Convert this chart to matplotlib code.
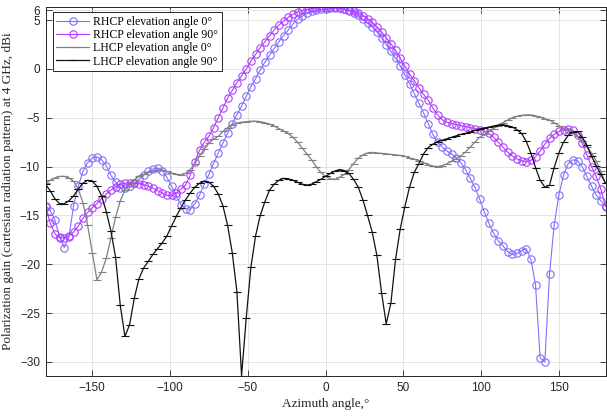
import numpy as np
import matplotlib
matplotlib.use("Agg")
import matplotlib.pyplot as plt

azimuth = np.arange(-180, 181, 3)

rhcp_el0 = [
    -14.0, -14.5, -15.5, -17.2, -18.3, -17.2, -14.0, -12.0, -10.5, -9.6,
    -9.1, -9.0, -9.3, -9.9, -10.9, -11.6, -12.2, -12.2, -12.0, -11.7,
    -11.3, -10.9, -10.5, -10.25, -10.15, -10.4, -11.1, -12.0, -13.0, -13.9,
    -14.3, -14.4, -13.8, -12.9, -11.8, -10.8, -9.7, -8.6, -7.6, -6.6,
    -5.6, -4.7, -3.8, -2.8, -1.8, -1.0, -0.1, 0.7, 1.4, 2.1,
    2.8, 3.4, 4.0, 4.6, 5.1, 5.4, 5.7, 5.9, 6.0, 6.1,
    6.15, 6.2, 6.2, 6.2, 6.1, 5.95, 5.75, 5.5, 5.1, 4.7,
    4.3, 3.8, 3.2, 2.5, 1.8, 1.1, 0.3, -0.6, -1.5, -2.5,
    -3.5, -4.5, -5.6, -6.7, -7.5, -8.0, -8.4, -8.7, -9.1, -9.6,
    -10.3, -11.2, -12.1, -13.3, -14.6, -15.8, -16.8, -17.6, -18.1, -18.7,
    -19.0, -18.9, -18.6, -18.4, -19.5, -22.1, -29.6, -30.0, -21.0, -16.0,
    -12.9, -10.9, -9.7, -9.3, -9.4, -10.0, -11.0, -12.0, -12.9, -13.5,
    -14.0]

rhcp_el90 = [
    -14.1, -15.8, -16.9, -17.3, -17.3, -17.1, -16.7, -16.1, -15.3, -14.7,
    -14.2, -13.8, -13.3, -12.8, -12.4, -12.1, -11.8, -11.7, -11.65, -11.7,
    -11.75, -11.85, -12.0, -12.2, -12.45, -12.7, -12.95, -12.95, -12.7, -12.3,
    -11.9, -10.9, -9.5, -8.3, -7.5, -6.9, -6.0, -5.0, -4.0, -3.0,
    -2.2, -1.4, -0.7, 0.0, 0.8, 1.5, 2.2, 2.8, 3.4, 4.0,
    4.5, 4.9, 5.3, 5.6, 5.85, 6.0, 6.1, 6.2, 6.25, 6.3,
    6.3, 6.3, 6.3, 6.25, 6.15, 6.05, 5.9, 5.7, 5.45, 5.15,
    4.8, 4.35, 3.8, 3.2, 2.6, 1.9, 1.1, 0.3, -0.5, -1.2,
    -1.9, -2.6, -3.2, -4.0, -4.7, -5.2, -5.45, -5.6, -5.7, -5.8,
    -5.9, -6.0, -6.1, -6.2, -6.4, -6.6, -7.0, -7.5, -8.0, -8.5,
    -8.9, -9.2, -9.4, -9.5, -9.35, -9.0, -8.4, -7.7, -7.1, -6.7,
    -6.4, -6.2, -6.1, -6.3, -6.8, -7.6, -8.8, -10.0, -11.0, -12.3,
    -14.1]

lhcp_el0 = [
    -11.7, -11.4, -11.15, -11.0, -11.0, -11.15, -11.5, -12.3, -13.7, -16.0,
    -18.8, -21.6, -20.8, -19.4, -17.3, -15.2, -13.5, -12.4, -11.8, -11.35,
    -11.0, -10.8, -10.6, -10.45, -10.35, -10.35, -10.5, -10.65, -10.8, -10.85,
    -10.7, -10.3, -9.7, -8.9, -8.2, -7.6, -7.2, -6.9, -6.4, -6.0,
    -5.7, -5.55, -5.45, -5.4, -5.35, -5.35, -5.4, -5.5, -5.65, -5.85,
    -6.1, -6.35, -6.6, -7.0, -7.5, -8.1, -8.7, -9.3, -10.0, -10.6,
    -11.0, -11.25, -11.3, -11.1, -10.8, -10.3, -9.7, -9.15, -8.8, -8.6,
    -8.55, -8.6, -8.65, -8.7, -8.75, -8.8, -8.85, -8.95, -9.1, -9.25,
    -9.4, -9.6, -9.8, -9.95, -10.0, -9.9, -9.7, -9.45, -9.2, -8.9,
    -8.5, -8.0, -7.5, -7.0, -6.7, -6.4, -6.1, -5.8, -5.5, -5.25,
    -5.0, -4.85, -4.75, -4.7, -4.7, -4.8, -4.95, -5.1, -5.25, -5.5,
    -5.8, -6.1, -6.3, -6.5, -6.9, -7.4, -8.0, -8.6, -9.4, -10.5,
    -11.7]

lhcp_el90 = [
    -11.8, -12.5, -13.3, -13.8, -13.8, -13.5, -13.0, -12.3, -11.7, -11.4,
    -11.5, -12.0, -13.0, -14.6, -16.6, -19.3, -24.2, -27.4, -26.2, -23.5,
    -21.5, -20.4, -19.7, -19.0, -18.4, -17.8, -17.1, -16.1, -15.1, -14.2,
    -13.4, -12.7, -12.1, -11.7, -11.5, -11.6, -12.0, -12.8, -14.0, -16.0,
    -18.8, -22.8, -31.4, -25.5, -20.3, -17.1, -15.0, -13.6, -12.4, -11.8,
    -11.4, -11.2, -11.25, -11.4, -11.6, -11.8, -11.9, -11.8, -11.55, -11.3,
    -11.0, -10.7, -10.45, -10.3, -10.4, -10.7, -11.3, -12.1, -13.4, -15.0,
    -16.7, -19.1, -22.9, -26.1, -24.0, -19.5, -16.4, -14.1, -12.1, -10.6,
    -9.7, -8.7, -8.05, -7.7, -7.45, -7.3, -7.15, -7.0, -6.85, -6.7,
    -6.6, -6.45, -6.3, -6.15, -6.05, -5.95, -5.85, -5.75, -5.7, -5.8,
    -5.95, -6.2, -6.6, -7.4, -8.6, -10.1, -11.4, -12.1, -11.9, -10.1,
    -8.6, -7.5, -6.8, -6.45, -6.4, -7.0, -7.8, -8.9, -9.9, -10.8,
    -11.7]

labels = ["RHCP elevation angle 0°", "RHCP elevation angle 90°",
          "LHCP elevation angle 0°", "LHCP elevation angle 90°"]
xticks = [-150, -100, -50, 0, 50, 100, 150]
yticks = [-30, -25, -20, -15, -10, -5, 0, 5, 6]

serif = ["Liberation Serif", "DejaVu Serif"]
sans = ["Liberation Sans", "DejaVu Sans"]

fig = plt.figure(figsize=(6.07, 4.17), dpi=100)
ax = fig.add_axes([45.6/607, 1-376/417, (605.5-45.6)/607, (376-7.3)/417])

ax.plot(azimuth, rhcp_el0, color="#8070FF", lw=0.8, marker="o", ms=5.3,
        mfc="none", mew=0.8, label=labels[0])
ax.plot(azimuth, rhcp_el90, color="#B23CFF", lw=0.8, marker="o", ms=5.3,
        mfc="none", mew=0.8, label=labels[1])
ax.plot(azimuth, lhcp_el0, color="#808080", lw=0.9, marker="_", ms=5.5,
        mew=0.8, label=labels[2])
ax.plot(azimuth, lhcp_el90, color="#111111", lw=0.9, marker="_", ms=5.5,
        mew=0.8, label=labels[3])

ax.set_xlim(-180, 180)
ax.set_ylim(-31.45, 6.32)
ax.set_xticks(xticks)
ax.set_yticks(yticks)
ax.grid(True, color="#e3e3e3", lw=0.7)
ax.set_axisbelow(True)
ax.tick_params(direction="in", length=4, width=0.6, top=True, right=True,
               colors="#262626", labelsize=8.5, pad=4)
for lab in ax.get_xticklabels() + ax.get_yticklabels():
    lab.set_family(sans)
for s in ax.spines.values():
    s.set_color("#262626")
    s.set_linewidth(0.7)

ax.set_xlabel("Azimuth angle,°", family=serif, fontsize=9.5, color="#262626", labelpad=3)
ax.set_ylabel("Polarization gain (cartesian radiation pattern) at 4 GHz, dBi",
              family=serif, fontsize=9.5, color="#262626", labelpad=4)

leg = ax.legend(loc="upper left", bbox_to_anchor=(0.013, 0.986),
                prop={"family": serif, "size": 8.5}, handlelength=2.8,
                labelspacing=0.1, borderpad=0.3, handletextpad=0.3,
                fancybox=False, framealpha=1, edgecolor="#262626",
                borderaxespad=0)
leg.get_frame().set_linewidth(0.7)

fig.savefig("out.png", dpi=100)
